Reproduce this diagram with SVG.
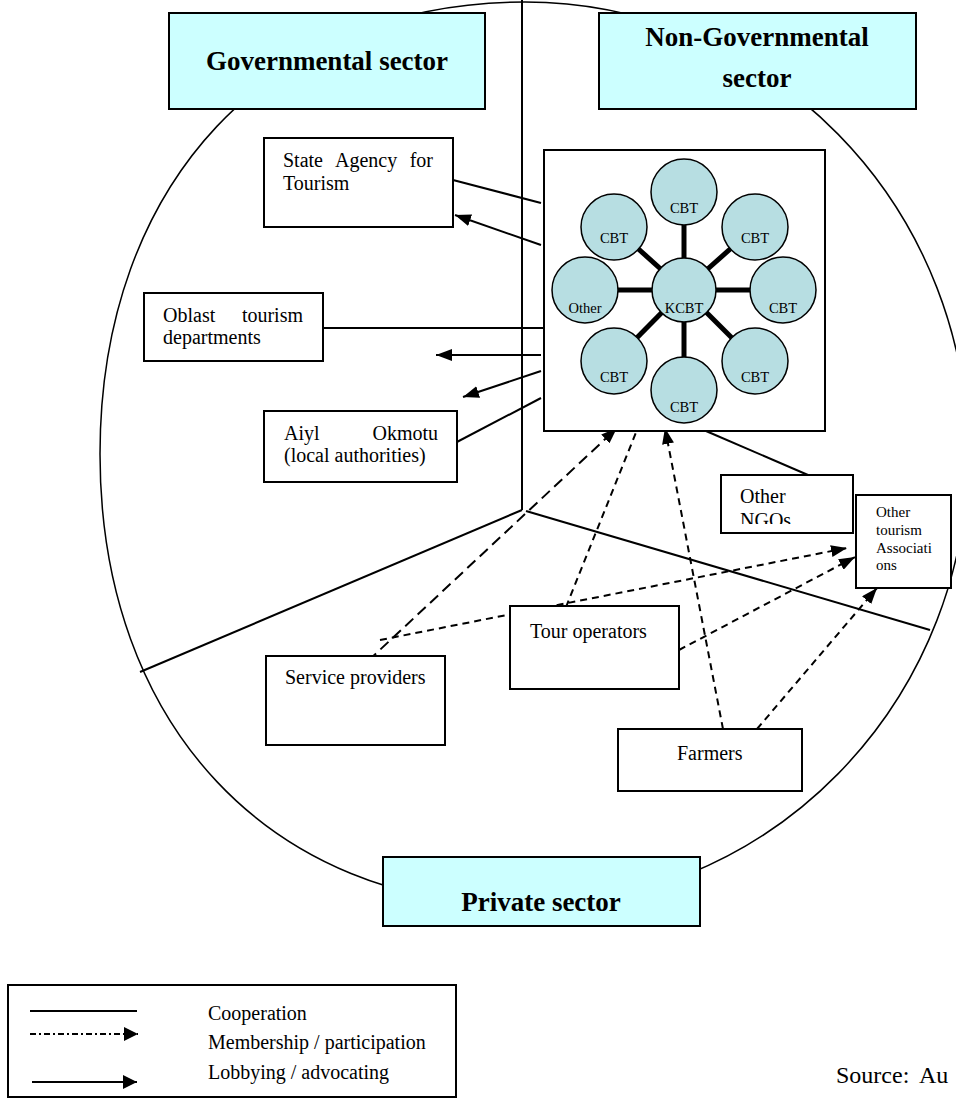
<svg xmlns="http://www.w3.org/2000/svg" width="956" height="1099" viewBox="0 0 956 1099">
<style>
.txt{font-family:"Liberation Serif","Times New Roman",serif;fill:#000}
.t20{font-size:20px}
.bold{font-size:27px;font-weight:bold}
.box{fill:#fff;stroke:#000;stroke-width:2}
.sector{fill:#CCFFFF;stroke:#000;stroke-width:2}
.ln{stroke:#000;stroke-width:2;fill:none}
.dash{stroke:#000;stroke-width:2;fill:none;stroke-dasharray:7 5}
.ldash{stroke:#000;stroke-width:2;fill:none;stroke-dasharray:11 6}
.spoke{stroke:#000;stroke-width:5}
.cbt{fill:#B7DEE2;stroke:#000;stroke-width:1.5}
.ct{font-size:14.5px;text-anchor:middle}
</style>
<defs>
<marker id="ah" markerUnits="userSpaceOnUse" markerWidth="16" markerHeight="12" refX="16" refY="6" orient="auto">
<path d="M0,0 L16,6 L0,12 z" fill="#000"/>
</marker>
<marker id="ahs" markerUnits="userSpaceOnUse" markerWidth="14" markerHeight="14" refX="14" refY="7" orient="auto">
<path d="M0,0 L14,7 L0,14 z" fill="#000"/>
</marker>
<clipPath id="ngoclip"><rect x="721" y="475" width="132" height="49"/></clipPath>
</defs>
<rect width="956" height="1099" fill="#fff"/>

<g id="sectors-outline">
<path d="M525,2 A443,452 0 0 1 525,906 C270,906 100,725 100,454 C100,183 270,2 525,2 Z" fill="none" stroke="#000" stroke-width="1.5"/>
<line x1="522" y1="0" x2="522" y2="510" class="ln"/>
<line x1="522" y1="510" x2="140" y2="672" class="ln"/>
<line x1="526" y1="511" x2="930" y2="630" class="ln"/>
</g>

<g id="connectors">
<line x1="453" y1="180" x2="541" y2="203" class="ln"/>
<line x1="541" y1="245" x2="455" y2="215" class="ln" marker-end="url(#ah)"/>
<line x1="323" y1="328" x2="543" y2="328" class="ln"/>
<line x1="541" y1="355" x2="436" y2="355" class="ln" marker-end="url(#ah)"/>
<line x1="541" y1="371" x2="463" y2="397" class="ln" marker-end="url(#ah)"/>
<line x1="541" y1="398" x2="455" y2="443" class="ln"/>
<line x1="706" y1="431" x2="808" y2="475" class="ln"/>
<line x1="368" y1="661" x2="617" y2="428" class="ldash" marker-end="url(#ah)"/>
<line x1="610" y1="428" x2="636" y2="425" class="ln"/>
<line x1="380" y1="640" x2="847" y2="548" class="dash" marker-end="url(#ah)"/>
<line x1="566" y1="607" x2="637" y2="430" class="dash"/>
<line x1="723" y1="729" x2="665" y2="428" class="dash" marker-end="url(#ah)"/>
<line x1="679" y1="650" x2="855" y2="557" class="dash" marker-end="url(#ah)"/>
<line x1="757" y1="729" x2="877" y2="588" class="dash" marker-end="url(#ah)"/>
</g>

<g id="governmental-sector">
<rect x="169" y="13" width="316" height="96" class="sector"/>
<text x="327" y="70" class="txt bold" text-anchor="middle">Governmental sector</text>
</g>

<g id="non-governmental-sector">
<rect x="599" y="13" width="317" height="96" class="sector"/>
<text x="757" y="46" class="txt bold" text-anchor="middle">Non-Governmental</text>
<text x="757" y="87" class="txt bold" text-anchor="middle">sector</text>
</g>

<g id="private-sector">
<rect x="383" y="857" width="317" height="69" class="sector"/>
<text x="541" y="911" class="txt bold" text-anchor="middle">Private sector</text>
</g>

<g id="state-agency">
<rect x="264" y="138" width="189" height="89" class="box"/>
<text x="283" y="167" class="txt t20">State</text>
<text x="335" y="167" class="txt t20">Agency</text>
<text x="433" y="167" class="txt t20" text-anchor="end">for</text>
<text x="283" y="190" class="txt t20">Tourism</text>
</g>

<g id="oblast">
<rect x="144" y="293" width="179" height="68" class="box"/>
<text x="163" y="322" class="txt t20">Oblast</text>
<text x="303" y="322" class="txt t20" text-anchor="end">tourism</text>
<text x="163" y="344" class="txt t20">departments</text>
</g>

<g id="aiyl-okmotu">
<rect x="264" y="411" width="193" height="71" class="box"/>
<text x="284" y="440" class="txt t20">Aiyl</text>
<text x="438" y="440" class="txt t20" text-anchor="end">Okmotu</text>
<text x="284" y="462" class="txt t20">(local authorities)</text>
</g>

<g id="kcbt-network">
<rect x="544" y="150" width="281" height="281" class="box"/>
<line x1="684" y1="290" x2="684" y2="192" class="spoke"/>
<line x1="684" y1="290" x2="684" y2="390" class="spoke"/>
<line x1="684" y1="290" x2="585" y2="290" class="spoke"/>
<line x1="684" y1="290" x2="783" y2="290" class="spoke"/>
<line x1="684" y1="290" x2="614" y2="227" class="spoke"/>
<line x1="684" y1="290" x2="755" y2="227" class="spoke"/>
<line x1="684" y1="290" x2="614" y2="361" class="spoke"/>
<line x1="684" y1="290" x2="755" y2="361" class="spoke"/>
<circle cx="684" cy="192" r="33" class="cbt"/>
<circle cx="614" cy="227" r="33" class="cbt"/>
<circle cx="755" cy="227" r="33" class="cbt"/>
<circle cx="585" cy="290" r="33" class="cbt"/>
<circle cx="684" cy="290" r="32" class="cbt"/>
<circle cx="783" cy="290" r="33" class="cbt"/>
<circle cx="614" cy="361" r="33" class="cbt"/>
<circle cx="755" cy="361" r="33" class="cbt"/>
<circle cx="684" cy="390" r="33" class="cbt"/>
<text x="684" y="213" class="txt ct">CBT</text>
<text x="614" y="243" class="txt ct">CBT</text>
<text x="755" y="243" class="txt ct">CBT</text>
<text x="585" y="313" class="txt ct">Other</text>
<text x="684" y="313" class="txt ct">KCBT</text>
<text x="783" y="313" class="txt ct">CBT</text>
<text x="614" y="382" class="txt ct">CBT</text>
<text x="755" y="382" class="txt ct">CBT</text>
<text x="684" y="412" class="txt ct">CBT</text>
</g>

<g id="other-ngos">
<rect x="721" y="475" width="132" height="58" class="box"/>
<g clip-path="url(#ngoclip)">
<text x="740" y="503" class="txt t20">Other</text>
<text x="740" y="527" class="txt t20">NGOs</text>
</g>
</g>

<g id="other-tourism-associations">
<rect x="856" y="495" width="95" height="93" class="box"/>
<text x="876" y="517" class="txt" font-size="15">Other</text>
<text x="876" y="535" class="txt" font-size="15">tourism</text>
<text x="876" y="553" class="txt" font-size="15">Associati</text>
<text x="876" y="570" class="txt" font-size="15">ons</text>
</g>

<g id="service-providers">
<rect x="266" y="656" width="179" height="89" class="box"/>
<text x="285" y="684" class="txt t20">Service providers</text>
</g>

<g id="tour-operators">
<rect x="510" y="606" width="169" height="83" class="box"/>
<text x="530" y="638" class="txt t20">Tour operators</text>
</g>

<g id="farmers">
<rect x="618" y="729" width="184" height="62" class="box"/>
<text x="677" y="760" class="txt t20">Farmers</text>
</g>

<g id="legend">
<rect x="8" y="985" width="448" height="112" class="box"/>
<line x1="30" y1="1011" x2="137" y2="1011" class="ln"/>
<line x1="30" y1="1034" x2="138" y2="1034" stroke="#000" stroke-width="2" stroke-dasharray="6 3 2 3" marker-end="url(#ahs)"/>
<line x1="32" y1="1082" x2="137" y2="1082" class="ln" marker-end="url(#ahs)"/>
<text x="208" y="1020" class="txt t20">Cooperation</text>
<text x="208" y="1049" class="txt t20">Membership / participation</text>
<text x="208" y="1079" class="txt t20">Lobbying / advocating</text>
</g>

<g id="source">
<text x="836" y="1083" class="txt" font-size="24" word-spacing="5">Source: Au</text>
</g>
</svg>
